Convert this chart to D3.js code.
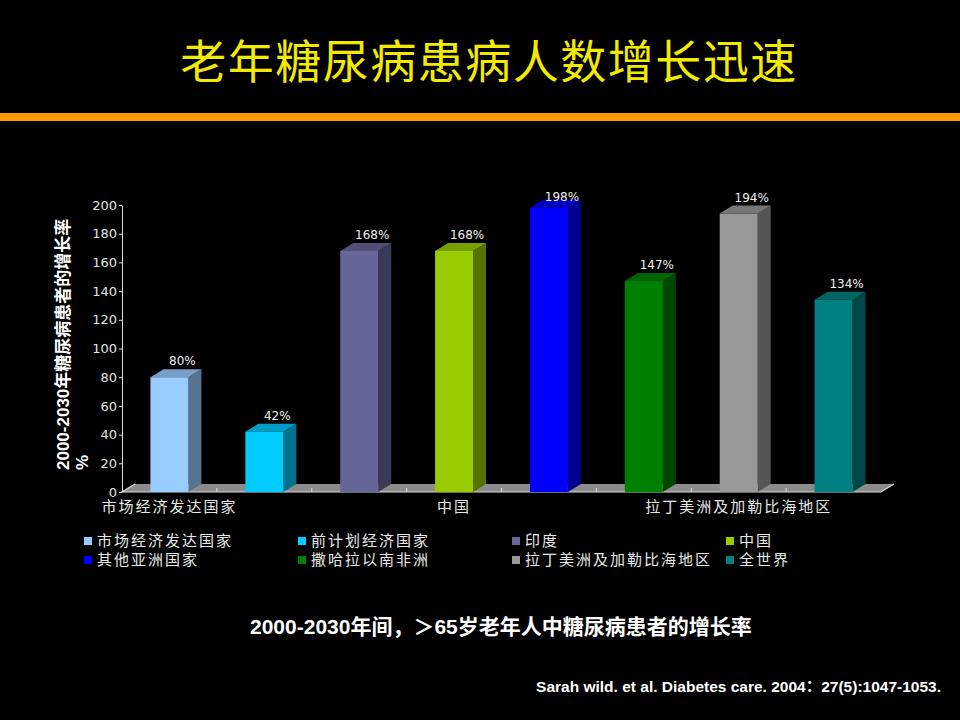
<!DOCTYPE html>
<html>
<head>
<meta charset="utf-8">
<script src="https://cdn.jsdelivr.net/npm/d3@7"></script>
<style>
  html, body { margin: 0; padding: 0; background: #000; }
  svg { display: block; }
</style>
</head>
<body>
<svg id="chart" width="960" height="720"></svg>
<script>
// data
const categories = ["市场经济发达国家", "前计划经济国家", "印度", "中国", "其他亚洲国家", "撒哈拉以南非洲", "拉丁美洲及加勒比海地区", "全世界"];
const growthPct  = [80, 42, 168, 168, 198, 147, 194, 134];
const barColors  = ["#99ccff", "#00ccff", "#666699", "#99cc00", "#0000ff", "#008000", "#999999", "#008080"];
const yTicks     = [0, 20, 40, 60, 80, 100, 120, 140, 160, 180, 200];
const shownXLabels = ["市场经济发达国家", "中国", "拉丁美洲及加勒比海地区"];

const titleText    = "老年糖尿病患病人数增长迅速";
const yTitleLines  = ["2000-2030年糖尿病患者的增长率", "%"];
const subtitleText = "2000-2030年间，＞65岁老年人中糖尿病患者的增长率";
const sourceText   = "Sarah wild. et al. Diabetes care. 2004：27(5):1047-1053.";

const data = categories.map((c, i) => ({ cat: c, v: growthPct[i], color: barColors[i] }));

const svg = d3.select("#chart");
const W = 960;
const cjk = "'Noto Sans CJK SC', 'Noto Sans', sans-serif";
const latinBold = "'Liberation Sans', Arial, 'Noto Sans CJK SC', sans-serif";

// ---- title + orange rule
svg.append("text")
    .attr("x", 489).attr("y", 78)
    .attr("text-anchor", "middle")
    .attr("font-family", cjk).attr("font-size", 46).attr("font-weight", 400)
    .attr("letter-spacing", 1.5)
    .attr("fill", "#f2ea00")
    .text(titleText);

svg.append("rect")
    .attr("x", 0).attr("y", 113).attr("width", W).attr("height", 8)
    .attr("fill", "#ff9900");

// ---- plot
const plot = { left: 122, right: 881, top: 205, bottom: 492 };
const depth = { dx: 13, dy: -8 };

const x = d3.scaleBand()
    .domain(categories)
    .range([plot.left, plot.right])
    .paddingInner(0.6)
    .paddingOuter(0.3);

const y = d3.scaleLinear().domain([0, 200]).range([plot.bottom, plot.top]);

const g = svg.append("g");

// floor
const y0 = y(0);
g.append("polygon")
    .attr("points", [
        [plot.left, y0], [plot.right, y0],
        [plot.right + depth.dx, y0 + depth.dy], [plot.left + depth.dx, y0 + depth.dy]
    ].map(p => p.join(",")).join(" "))
    .attr("fill", "#8c8c8c");
g.append("path")
    .attr("d", `M${plot.left + depth.dx},${y0 + depth.dy} L${plot.left},${y0} L${plot.right},${y0} L${plot.right + depth.dx},${y0 + depth.dy}`)
    .attr("fill", "none").attr("stroke", "#d8d8d8").attr("stroke-width", 1.2);

// category tick marks on the floor edge (band boundaries)
const step = x.step();
const boundaries = categories.slice(1).map(c => x(c) - (step - x.bandwidth()) / 2);
g.append("g").selectAll("line")
    .data(boundaries)
    .join("line")
    .attr("x1", d => d).attr("x2", d => d)
    .attr("y1", y0).attr("y2", y0 - 4)
    .attr("stroke", "#e0e0e0").attr("stroke-width", 1);

// y axis
const yAxis = g.append("g")
    .attr("transform", `translate(${plot.left},0)`)
    .call(d3.axisLeft(y).tickValues(yTicks).tickSize(3).tickSizeOuter(0).tickPadding(2));
yAxis.select(".domain").attr("stroke", "#e0e0e0");
yAxis.selectAll(".tick line").attr("stroke", "#e0e0e0");
yAxis.selectAll(".tick text")
    .attr("fill", "#e4e4e4")
    .attr("font-family", "'DejaVu Sans', sans-serif")
    .attr("font-size", 13);

// bars: side, top, front face
const shade = (c, k) => d3.color(c).darker(k).formatHex();
const bars = g.append("g").selectAll("g.bar")
    .data(data)
    .join("g")
    .attr("class", "bar");

bars.append("polygon")
    .attr("points", d => {
        const x0 = x(d.cat) + x.bandwidth(), yt = y(d.v);
        return [[x0, yt], [x0 + depth.dx, yt + depth.dy], [x0 + depth.dx, y0 + depth.dy], [x0, y0]]
            .map(p => p.join(",")).join(" ");
    })
    .attr("fill", d => shade(d.color, 1.6));

bars.append("polygon")
    .attr("points", d => {
        const x0 = x(d.cat), x1 = x0 + x.bandwidth(), yt = y(d.v);
        return [[x0, yt], [x0 + depth.dx, yt + depth.dy], [x1 + depth.dx, yt + depth.dy], [x1, yt]]
            .map(p => p.join(",")).join(" ");
    })
    .attr("fill", d => shade(d.color, 0.7));

bars.append("rect")
    .attr("x", d => x(d.cat))
    .attr("y", d => y(d.v))
    .attr("width", x.bandwidth())
    .attr("height", d => y0 - y(d.v))
    .attr("fill", d => d.color);

// value labels (kept inside the plot top like the original)
bars.append("text")
    .attr("x", d => x(d.cat) + x.bandwidth() / 2 + depth.dx)
    .attr("y", d => Math.max(y(d.v) + depth.dy - 4, y(200) - 4))
    .attr("text-anchor", "middle")
    .attr("font-family", "'DejaVu Sans', sans-serif")
    .attr("font-size", 12)
    .attr("fill", "#f0f0f0")
    .text(d => `${d.v}%`);

// category labels (only every third one shows)
g.append("g").selectAll("text")
    .data(shownXLabels)
    .join("text")
    .attr("x", d => x(d) + x.bandwidth() / 2)
    .attr("y", 512)
    .attr("text-anchor", "middle")
    .attr("font-family", cjk).attr("font-size", 15)
    .attr("letter-spacing", 2)
    .attr("fill", "#e8e8e8")
    .text(d => d);

// y title, rotated, two lines
const yTitle = svg.append("g").attr("transform", "translate(69,470) rotate(-90)");
yTitle.selectAll("text")
    .data(yTitleLines)
    .join("text")
    .attr("x", 0).attr("y", (d, i) => i * 19)
    .attr("font-family", latinBold).attr("font-weight", "bold")
    .attr("font-size", 17)
    .attr("fill", "#ffffff")
    .text(d => d);

// ---- legend, 4 columns x 2 rows
const legend = svg.append("g").selectAll("g.item")
    .data(data)
    .join("g")
    .attr("class", "item")
    .attr("transform", (d, i) => `translate(${84 + (i % 4) * 214},${541 + Math.floor(i / 4) * 19})`);
legend.append("rect")
    .attr("x", 0).attr("y", -4).attr("width", 8).attr("height", 8)
    .attr("fill", d => d.color);
legend.append("text")
    .attr("x", 13).attr("y", 0).attr("dy", "0.36em")
    .attr("font-family", cjk).attr("font-size", 15)
    .attr("letter-spacing", 2)
    .attr("fill", "#e8e8e8")
    .text(d => d.cat);

// ---- subtitle + source
svg.append("text")
    .attr("x", 250).attr("y", 634)
    .attr("font-family", latinBold).attr("font-weight", "bold")
    .attr("font-size", 21)
    .attr("fill", "#ffffff")
    .text(subtitleText);

svg.append("text")
    .attr("x", 941).attr("y", 692)
    .attr("text-anchor", "end")
    .attr("font-family", latinBold).attr("font-weight", "bold")
    .attr("font-size", 15.5)
    .attr("fill", "#ffffff")
    .text(sourceText);
</script>
</body>
</html>
